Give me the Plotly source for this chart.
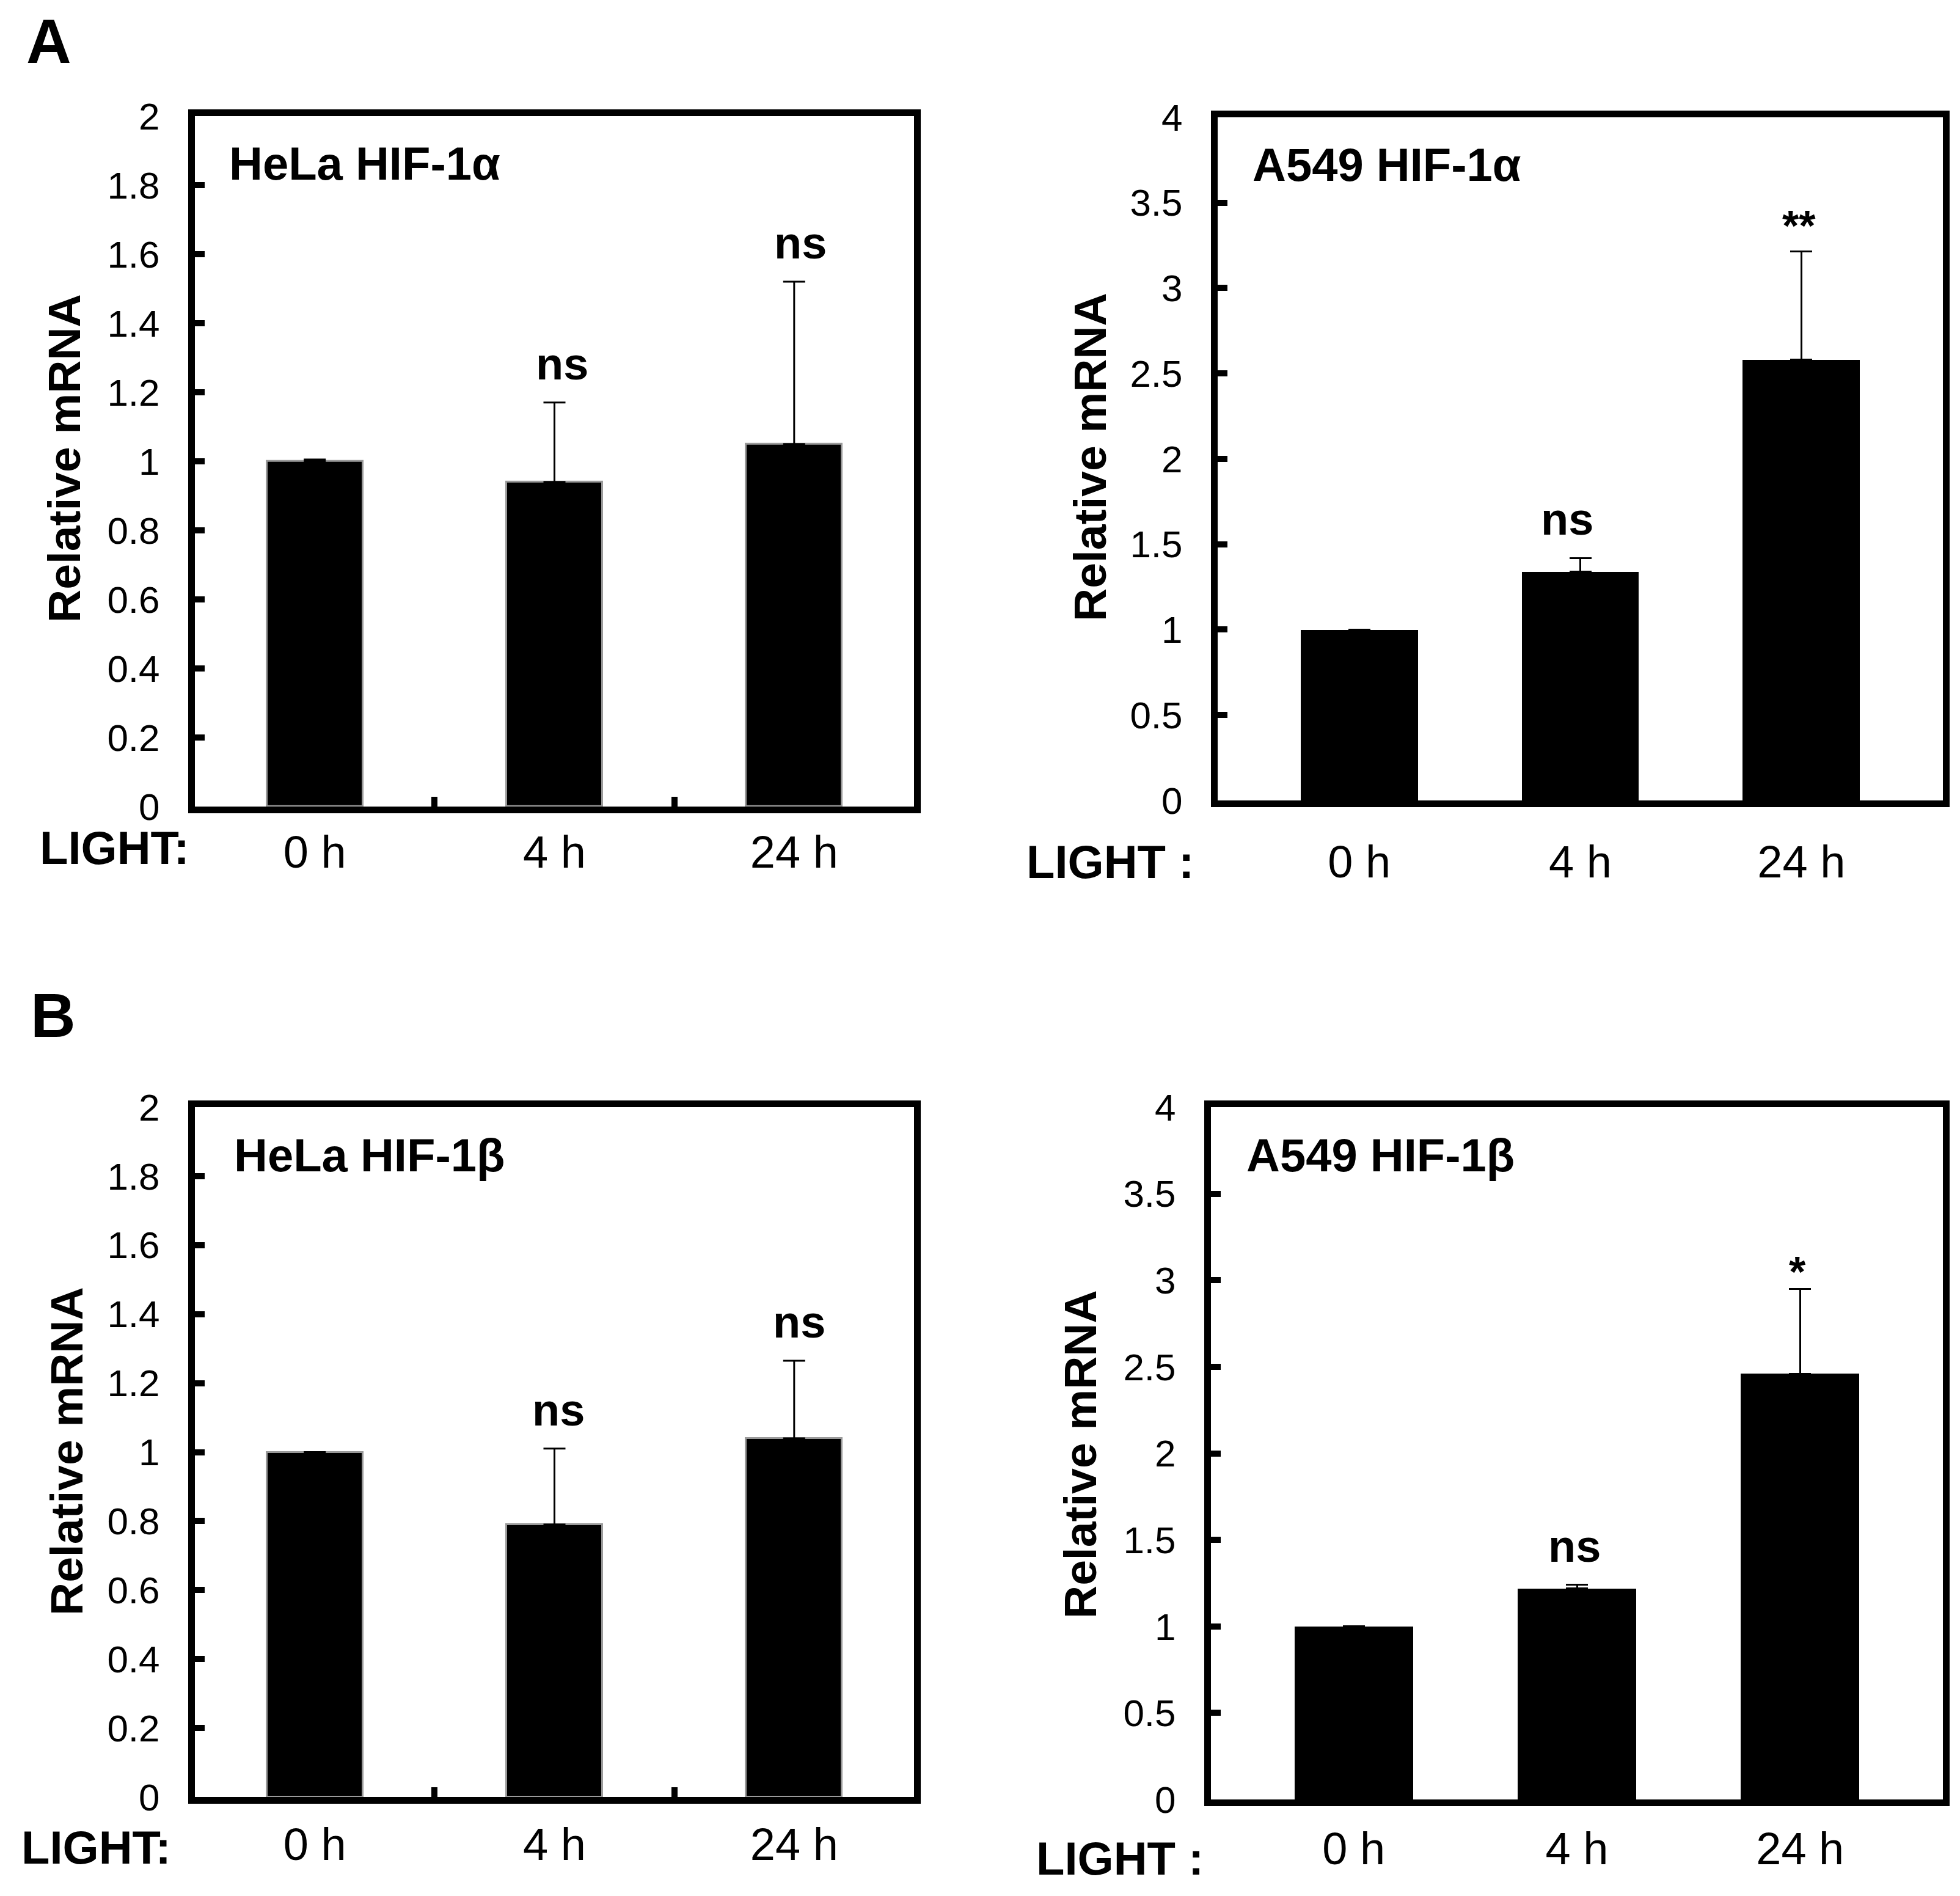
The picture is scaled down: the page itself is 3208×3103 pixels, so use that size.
import plotly.graph_objects as go
from plotly.subplots import make_subplots

W, H = 3208, 3103

# data
times = ["0 h", "4 h", "24 h"]
x_pos = [0, 1, 2]

hela_a_mean = [1.0, 0.94, 1.05]
hela_a_err = [0.005, 0.23, 0.47]
hela_a_sig = ["", "ns", "ns"]

a549_a_mean = [1.0, 1.34, 2.58]
a549_a_err = [0.0, 0.08, 0.635]
a549_a_sig = ["", "ns", "**"]

hela_b_mean = [1.0, 0.79, 1.04]
hela_b_err = [0.0, 0.22, 0.225]
hela_b_sig = ["", "ns", "ns"]

a549_b_mean = [1.0, 1.22, 2.46]
a549_b_err = [0.0, 0.02, 0.49]
a549_b_sig = ["", "ns", "*"]

FONT = "Liberation Sans"


def px_x(v):
    return v / W


def px_y(v):
    # rendered page comes out slightly squashed vertically, compensate
    return 1 - (1.0247 * v - 47.6) / H


fig = make_subplots(rows=2, cols=2)

panels = [
    # row, col, mean, err, sig, title, ymax, dtick, bar width, x range, box (x0, x1, y0, y1), hela?, title dx, label standoff, sig xshift
    (1, 1, hela_a_mean, hela_a_err, hela_a_sig, "HeLa HIF-1α", 2, 0.2, 0.40, [-0.5, 2.5], (311, 1488, 194, 1322), True, 54, 0, [0, 12, 10]),
    (1, 2, a549_a_mean, a549_a_err, a549_a_sig, "A549 HIF-1α", 4, 0.5, 0.53, [-0.64, 2.64], (1985, 3172, 196, 1312), False, 55, 26, [0, -22, -4]),
    (2, 1, hela_b_mean, hela_b_err, hela_b_sig, "HeLa HIF-1β", 2, 0.2, 0.40, [-0.5, 2.5], (311, 1488, 1813, 2940), True, 62, 3, [0, 6, 8]),
    (2, 2, a549_b_mean, a549_b_err, a549_b_sig, "A549 HIF-1β", 4, 0.5, 0.53, [-0.64, 2.64], (1974, 3172, 1813, 2944), False, 56, 6, [0, -4, -4]),
]

annotations = []
for i, (r, c, mean, err, sig, title, ymax, dt, bw, xr, box, hela, tdx, stand, sx) in enumerate(panels):
    fig.add_trace(go.Bar(
        x=x_pos, y=mean, width=bw,
        marker=dict(color="black",
                    line=dict(color="#9a9a9a" if hela else "black", width=3 if hela else 0)),
        error_y=dict(type="data", symmetric=False, array=err, arrayminus=[0] * 3,
                     color="black", thickness=3, width=18),
        showlegend=False,
    ), row=r, col=c)

    n = "" if i == 0 else str(i + 1)
    x0, x1, y0, y1 = box
    minor = dict(tickvals=[0.5, 1.5], ticks="inside", ticklen=16, tickwidth=10,
                 tickcolor="black") if hela else dict(ticks="")
    fig.layout["xaxis" + n].update(
        domain=[px_x(x0), px_x(x1)], range=xr,
        tickvals=x_pos, ticktext=times, ticks="",
        showline=True, linecolor="black", linewidth=11, mirror=True,
        showgrid=False, zeroline=False,
        tickfont=dict(family=FONT, size=74, color="black"),
        ticklabelstandoff=stand,
        minor=minor,
    )
    fig.layout["yaxis" + n].update(
        domain=[px_y(y1), px_y(y0)], range=[0, ymax], dtick=dt,
        ticks="inside", ticklen=16, tickwidth=10, tickcolor="black",
        showline=True, linecolor="black", linewidth=11, mirror=True,
        showgrid=False, zeroline=False,
        tickfont=dict(family=FONT, size=62, color="black"),
        ticklabelstandoff=34,
    )

    # panel title inside the box
    annotations.append(dict(
        xref="paper", yref="paper", x=px_x(x0 + tdx), y=px_y(y0 + 78),
        xanchor="left", yanchor="middle", showarrow=False, text=title,
        font=dict(family=FONT, size=76, color="black", weight="bold"),
    ))
    # significance labels above error bars
    for xv, m, e, s, dx in zip(x_pos, mean, err, sig, sx):
        if not s:
            continue
        if s == "*":
            dy = -14
        elif s == "**":
            dy = 0
        else:
            dy = 20
        annotations.append(dict(
            xref="x" + n, yref="y" + n, x=xv, y=m + e,
            xanchor="center", yanchor="bottom", showarrow=False, text=s,
            xshift=dx, yshift=dy,
            font=dict(family=FONT, size=70 if s.startswith("*") else 74,
                      color="black", weight="bold"),
        ))

# y-axis titles
for xc, yc in [(97, 753), (1776, 751), (101, 2375), (1760, 2380)]:
    annotations.append(dict(
        xref="paper", yref="paper", x=px_x(xc), y=px_y(yc),
        xanchor="center", yanchor="middle", showarrow=False, textangle=-90,
        text="Relative mRNA",
        font=dict(family=FONT, size=75, color="black", weight="bold"),
    ))

# LIGHT labels
for txt, xl, yc in [("LIGHT:", 55, 1389), ("LIGHT :", 1670, 1412),
                    ("LIGHT:", 25, 3022), ("LIGHT :", 1686, 3040)]:
    annotations.append(dict(
        xref="paper", yref="paper", x=px_x(xl), y=px_y(yc),
        xanchor="left", yanchor="middle", showarrow=False, text=txt,
        font=dict(family=FONT, size=76, color="black", weight="bold"),
    ))

# panel letters
for txt, xl, yc in [("A", 33, 72), ("B", 40, 1663)]:
    annotations.append(dict(
        xref="paper", yref="paper", x=px_x(xl), y=px_y(yc),
        xanchor="left", yanchor="middle", showarrow=False, text=txt,
        font=dict(family=FONT, size=102, color="black", weight="bold"),
    ))

fig.update_layout(
    width=W, height=H,
    margin=dict(l=0, r=0, t=0, b=0),
    paper_bgcolor="white", plot_bgcolor="white",
    annotations=annotations,
    bargap=0,
)

fig.write_html("out.html")
